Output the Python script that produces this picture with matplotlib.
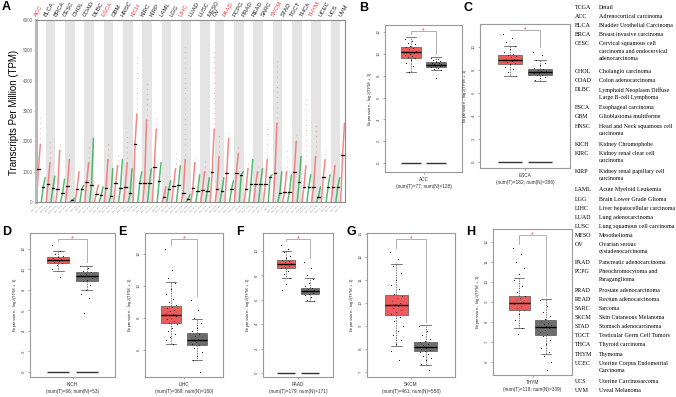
import numpy as np
import matplotlib.pyplot as plt

plt.rcParams['font.family'] = ['Liberation Sans', 'DejaVu Sans']

# ---------------- panel A : TPM dot plot ----------------
cancers = ['ACC', 'BLCA', 'BRCA', 'CESC', 'CHOL', 'COAD', 'DLBC', 'ESCA', 'GBM', 'HNSC',
           'KICH', 'KIRC', 'KIRP', 'LAML', 'LGG', 'LIHC', 'LUAD', 'LUSC', 'MESO', 'OV',
           'PAAD', 'PCPG', 'PRAD', 'READ', 'SARC', 'SKCM', 'STAD', 'TGCT', 'THCA', 'THYM',
           'UCEC', 'UCS', 'UVM']
highlight = ['ACC', 'ESCA', 'KICH', 'LIHC', 'PAAD', 'SKCM', 'THYM']
num_tumor = [77, 404, 1085, 306, 36, 275, 47, 182, 163, 519, 66, 523, 286, 173, 518, 369, 483,
             486, 87, 426, 179, 182, 492, 92, 262, 461, 408, 137, 512, 118, 174, 57, 79]
num_normal = [128, 28, 291, 13, 9, 349, 337, 286, 207, 44, 53, 100, 60, 70, 207, 160, 347,
              338, 0, 88, 171, 3, 152, 318, 2, 558, 211, 165, 337, 339, 91, 78, 0]
tumor_median = [1100, 600, 440, 520, 420, 650, 280, 470, 610, 500, 1900, 620, 1150, 180, 530,
                290, 470, 400, 1000, 420, 950, 970, 430, 590, 590, 950, 340, 1000, 500, 500,
                830, 500, 1550]
tumor_top = [1900, 1300, 1700, 1400, 1000, 1300, 550, 1400, 1200, 1300, 2900, 2700, 2400, 500,
             1100, 1400, 1300, 1000, 2400, 1500, 2100, 1600, 1100, 1000, 1400, 2600, 1000, 2000,
             1200, 1500, 1400, 1200, 2600]
tumor_max = [2800, 2000, 2000, 1600, 1000, 1800, 650, 2000, 1600, 2300, 4900, 4000, 2900, 600,
             1600, 5100, 1500, 1400, 5100, 2200, 2400, 1900, 1400, 1200, 2600, 4700, 1800, 2200,
             3500, 2600, 1800, 1300, 4800]
normal_median = [500, 460, 300, 60, 440, 560, 220, 190, 460, 290, 640, 620, 680, 430, 560, 100,
                 370, 370, 0, 370, 420, 880, 590, 590, 830, 300, 340, 670, 500, 175, 500, 500, 0]
normal_top = [800, 850, 750, 120, 550, 2100, 500, 1100, 1400, 1100, 1000, 1100, 1300, 700, 1200,
              250, 900, 800, 0, 800, 700, 1000, 1400, 1100, 900, 1000, 900, 1500, 900, 500, 900,
              800, 0]
tpm_ticks = [0, 1000, 2000, 3000, 4000, 5000, 6000]

# ---------------- panels B-H : boxplots (whislo, q1, med, q3, whishi) ----------------
acc_tumor_box = [8.3, 9.6, 10.15, 10.6, 11.5]
acc_normal_box = [8.5, 8.8, 9.0, 9.25, 9.7]
acc_tumor_pts = [11.4, 11.2, 11.0, 10.9, 10.7, 10.6, 10.5, 10.4, 10.3, 10.2, 10.15, 10.1, 10.0,
                 9.9, 9.8, 9.7, 9.6, 9.4, 9.2, 8.9, 8.3]
acc_normal_pts = [9.6, 9.5, 9.4, 9.3, 9.25, 9.2, 9.15, 9.1, 9.05, 9.0, 8.95, 8.9, 8.85, 8.8,
                  8.7, 8.6, 8.5, 7.8]

esca_tumor_box = [7.5, 8.55, 8.9, 9.28, 10.1]
esca_normal_box = [7.05, 7.55, 7.85, 8.13, 8.85]
esca_tumor_pts = [11.1, 10.8, 10.4, 10.1, 9.8, 9.6, 9.4, 9.3, 9.2, 9.1, 9.0, 8.95, 8.9, 8.85,
                  8.8, 8.7, 8.6, 8.5, 8.3, 8.1, 7.8, 7.5]
esca_normal_pts = [9.6, 9.3, 8.9, 8.6, 8.4, 8.2, 8.1, 8.0, 7.95, 7.9, 7.85, 7.8, 7.75, 7.7, 7.6,
                   7.55, 7.4, 7.3, 7.1]

kich_tumor_box = [9.9, 10.6, 10.9, 11.25, 11.8]
kich_normal_box = [8.0, 8.9, 9.35, 9.75, 10.3]
kich_tumor_pts = [12.4, 11.8, 11.5, 11.3, 11.2, 11.1, 11.0, 10.95, 10.9, 10.8, 10.7, 10.6, 10.4,
                  10.0, 9.3]
kich_normal_pts = [10.3, 10.1, 9.9, 9.8, 9.6, 9.5, 9.4, 9.35, 9.2, 9.0, 8.9, 8.5, 8.0, 7.6, 7.2,
                   5.8]

lihc_tumor_box = [6.4, 7.7, 8.2, 8.75, 10.25]
lihc_normal_box = [5.4, 6.3, 6.65, 7.05, 7.9]
lihc_tumor_pts = [12.3, 11.0, 10.5, 10.2, 9.8, 9.5, 9.2, 9.0, 8.8, 8.7, 8.6, 8.5, 8.4, 8.3, 8.25,
                  8.2, 8.1, 8.0, 7.9, 7.8, 7.7, 7.6, 7.4, 7.2, 7.0, 6.8, 6.6, 6.4]
lihc_normal_pts = [9.1, 8.5, 8.0, 7.7, 7.4, 7.2, 7.0, 6.9, 6.8, 6.7, 6.65, 6.6, 6.5, 6.4, 6.3,
                   6.1, 5.9, 5.6, 5.4, 4.6]

paad_tumor_box = [7.75, 8.65, 8.95, 9.25, 10.0]
paad_normal_box = [5.9, 6.5, 6.75, 7.0, 7.75]
paad_tumor_pts = [10.5, 10.2, 9.9, 9.6, 9.4, 9.3, 9.2, 9.1, 9.0, 8.95, 8.9, 8.8, 8.7, 8.6, 8.4,
                  8.1, 7.8, 7.3, 6.8]
paad_normal_pts = [9.1, 8.6, 8.0, 7.7, 7.4, 7.1, 7.0, 6.9, 6.8, 6.75, 6.7, 6.6, 6.5, 6.4, 6.2,
                   6.0, 5.9]

skcm_tumor_box = [8.13, 9.46, 9.92, 10.35, 11.68]
skcm_normal_box = [7.32, 7.89, 8.1, 8.29, 9.03]
skcm_tumor_pts = [12.2, 11.9, 11.6, 11.3, 11.0, 10.8, 10.6, 10.4, 10.3, 10.2, 10.1, 10.0, 9.95,
                  9.9, 9.85, 9.8, 9.7, 9.6, 9.5, 9.4, 9.2, 9.0, 8.8, 8.6, 8.4, 8.2, 7.9, 7.5]
skcm_normal_pts = [9.0, 8.8, 8.6, 8.45, 8.35, 8.3, 8.2, 8.15, 8.1, 8.05, 8.0, 7.95, 7.9, 7.85,
                   7.8, 7.7, 7.6, 7.5, 7.35, 7.1]

thym_tumor_box = [7.7, 8.6, 8.93, 9.31, 10.18]
thym_normal_box = [6.41, 7.36, 7.77, 8.1, 9.14]
thym_tumor_pts = [11.7, 11.4, 11.0, 10.7, 10.4, 10.1, 9.8, 9.5, 9.3, 9.2, 9.1, 9.0, 8.95, 8.9,
                  8.8, 8.7, 8.6, 8.4, 8.1, 7.7, 7.4]
thym_normal_pts = [9.1, 8.8, 8.5, 8.3, 8.15, 8.05, 7.95, 7.9, 7.85, 7.8, 7.75, 7.7, 7.6, 7.5, 7.4,
                   7.3, 7.1, 6.9, 6.7, 6.5, 6.3, 6.0, 5.6]

zero_baseline = ['ACC', 'ESCA', 'KICH', 'PAAD']

# ---------------- legend table ----------------
tcga_abbr = ['TCGA'] + cancers
tcga_detail = ['Detail', 'Adrenocortical carcinoma', 'Bladder Urothelial Carcinoma',
               'Breast invasive carcinoma',
               'Cervical squamous cell\ncarcinoma and endocervical\nadenocarcinoma',
               'Cholangio carcinoma', 'Colon adenocarcinoma',
               'Lymphoid Neoplasm Diffuse\nLarge B-cell Lymphoma', 'Esophageal carcinoma',
               'Glioblastoma multiforme', 'Head and Neck squamous cell\ncarcinoma',
               'Kidney Chromophobe', 'Kidney renal clear cell\ncarcinoma',
               'Kidney renal papillary cell\ncarcinoma', 'Acute Myeloid Leukemia',
               'Brain Lower Grade Glioma', 'Liver hepatocellular carcinoma',
               'Lung adenocarcinoma', 'Lung squamous cell carcinoma', 'Mesothelioma',
               'Ovarian serous\ncystadenocarcinoma', 'Pancreatic adenocarcinoma',
               'Pheochromocytoma and\nParaganglioma', 'Prostate adenocarcinoma',
               'Rectum adenocarcinoma', 'Sarcoma', 'Skin Cutaneous Melanoma',
               'Stomach adenocarcinoma', 'Testicular Germ Cell Tumors', 'Thyroid carcinoma',
               'Thymoma', 'Uterine Corpus Endometrial\nCarcinoma', 'Uterine Carcinosarcoma',
               'Uveal Melanoma']

W, H = 676, 397
fig = plt.figure(figsize=(W / 100, H / 100), dpi=100)


def px_axes(left, top, right, bottom):
    return fig.add_axes([left / W, 1 - bottom / H, (right - left) / W, (bottom - top) / H])


def letter(x, y, s):
    fig.text(x / W, 1 - y / H, s, fontsize=9, fontweight='bold', ha='center', va='center')


RED = '#F26B6B'
GREEN = '#2DAA4A'

# ---- panel A ----
ax = px_axes(36, 20, 345, 202)
widths = [1.0 if n > 0 else 0.5 for n in num_normal]
lefts = np.concatenate([[0], np.cumsum(widths)[:-1]])
total = sum(widths)
for i, name in enumerate(cancers):
    L, wd = lefts[i], widths[i]
    if i % 2 == 1:
        ax.axvspan(L, L + wd, color='#e4e4e4', lw=0, zorder=0)
    spans = [(L + 0.05, L + 0.45, tumor_median[i], tumor_top[i], RED)]
    if num_normal[i] > 0:
        spans.append((L + 0.55, L + 0.95, normal_median[i], normal_top[i], GREEN))
    for s0, s1, med, top, col in spans:
        xm = (s0 + s1) / 2
        ax.plot([s0, xm, s1], [0, med, top], color=col, lw=1.1, alpha=0.8,
                solid_capstyle='round', zorder=2)
        ax.plot([xm - 0.13, xm + 0.13], [med, med], color='black', lw=0.9, zorder=3)
    ax.plot([L + 0.45, L + 0.45], [tumor_top[i], tumor_max[i]], color=RED, lw=0.8,
            ls=(0, (0.6, 4)), alpha=0.7, zorder=2)
    col = '#E8403F' if name in highlight else '#222222'
    ax.text(L + 0.2, 6080, name, rotation=60, rotation_mode='anchor', ha='left',
            va='bottom', fontsize=4.3, color=col, clip_on=False)
    ax.text(L + 0.25, -60, '(num=%d)' % num_tumor[i], rotation=45, rotation_mode='anchor',
            ha='right', va='top', fontsize=1.7, color='#777777', clip_on=False)
    if num_normal[i] > 0:
        ax.text(L + 0.75, -60, '(num=%d)' % num_normal[i], rotation=45,
                rotation_mode='anchor', ha='right', va='top', fontsize=1.7,
                color='#777777', clip_on=False)
ax.set_xlim(0, total)
ax.set_ylim(0, 6000)
ax.set_xticks([])
ax.set_yticks(tpm_ticks)
ax.tick_params(axis='y', labelsize=3.3, labelcolor='#666666', length=1.5, width=0.4,
               color='#888888', pad=1)
for sp in ['top', 'right', 'bottom']:
    ax.spines[sp].set_color('#8a8a8a')
    ax.spines[sp].set_linewidth(0.8)
ax.spines['left'].set_color('#b8b8b8')
ax.spines['left'].set_linewidth(2.2)
fig.text(14 / W, 1 - 112 / H, 'Transcripts Per Million (TPM)', rotation=90, fontsize=7,
         ha='center', va='center')
letter(6, 7, 'A')

# ---- panels B-H ----
panels = [
    ('B', 'ACC', acc_tumor_box, acc_normal_box, acc_tumor_pts, acc_normal_pts,
     (385, 25, 462, 172), (-0.82, 12.64), range(0, 13, 2), (364, 8)),
    ('C', 'ESCA', esca_tumor_box, esca_normal_box, esca_tumor_pts, esca_normal_pts,
     (480, 24, 570, 168), (-0.52, 12.0), range(0, 11, 2), (468, 8)),
    ('D', 'KICH', kich_tumor_box, kich_normal_box, kich_tumor_pts, kich_normal_pts,
     (30, 233, 115, 377), (-0.49, 13.56), range(0, 13, 2), (7, 232)),
    ('E', 'LIHC', lihc_tumor_box, lihc_normal_box, lihc_tumor_pts, lihc_normal_pts,
     (145, 233, 223, 377), (4.31, 13.3), range(6, 13, 2), (122, 232)),
    ('F', 'PAAD', paad_tumor_box, paad_normal_box, paad_tumor_pts, paad_normal_pts,
     (263, 233, 333, 377), (-0.33, 11.48), range(0, 11, 2), (240, 232)),
    ('G', 'SKCM', skcm_tumor_box, skcm_normal_box, skcm_tumor_pts, skcm_normal_pts,
     (367, 233, 455, 377), (6.78, 13.04), range(7, 14), (351, 232)),
    ('H', 'THYM', thym_tumor_box, thym_normal_box, thym_tumor_pts, thym_normal_pts,
     (493, 229, 572, 375), (5.35, 12.65), range(6, 13), (471, 232)),
]

for lab, name, tbox, nbox, tpts, npts, rect, ylim, yt, lpos in panels:
    ax = px_axes(*rect)
    stats = []
    for b in (tbox, nbox):
        stats.append(dict(whislo=b[0], q1=b[1], med=b[2], q3=b[3], whishi=b[4], fliers=[]))
    bp = ax.bxp(stats, positions=[1, 2], widths=0.78, patch_artist=True, showfliers=False,
                boxprops=dict(lw=0.5, edgecolor='#555555'),
                whiskerprops=dict(lw=0.5, color='#444444', ls=(0, (2, 1.5))),
                capprops=dict(lw=0.5, color='#444444'),
                medianprops=dict(color='black', lw=1.0))
    bp['boxes'][0].set_facecolor('#EF5B5B')
    bp['boxes'][1].set_facecolor('#6E6E6E')
    for pos, pts in ((1, tpts), (2, npts)):
        offs = [((k * 0.618) % 1 - 0.5) * 0.45 for k in range(len(pts))]
        ax.scatter(np.array(offs) + pos, pts, s=0.6, color='black', lw=0, zorder=4)
    if name in zero_baseline:
        ax.hlines([0, 0], [0.61, 1.61], [1.39, 2.39], color='#333333', lw=1.0, zorder=3)
    rng = ylim[1] - ylim[0]
    yb = ylim[1] - 0.04 * rng
    ax.plot([1, 1, 2, 2], [max(tpts) + 0.03 * rng, yb, yb, max(npts) + 0.03 * rng],
            color='#b0b0b0', lw=0.7, zorder=2)
    ax.text(1.5, yb, '*', color='#E8403F', fontsize=5, ha='center', va='center')
    ax.set_xlim(0, 3)
    ax.set_ylim(*ylim)
    ax.set_xticks([1.5])
    ax.set_xticklabels([''])
    ax.set_yticks(list(yt))
    ax.set_yticklabels([str(v) for v in yt], rotation=90, va='center')
    ax.tick_params(labelsize=3.2, labelcolor='#444444', length=1.5, width=0.4,
                   color='#666666', pad=1.5)
    for sp in ax.spines.values():
        sp.set_color('#9a9a9a')
        sp.set_linewidth(0.8)
    ax.set_ylabel('Expression - log$_2$(TPM + 1)', fontsize=3.2, labelpad=2, color='#333333')
    i = cancers.index(name)
    ax.text(0.5, -0.035, name, transform=ax.transAxes, fontsize=3.4, ha='center', va='top',
            color='#333333')
    ax.text(0.5, -0.08, '(num(T)=%d; num(N)=%d)' % (num_tumor[i], num_normal[i]),
            transform=ax.transAxes, fontsize=3.4, ha='center', va='top', color='#333333')
    letter(lpos[0], lpos[1], lab)

# ---- legend table ----
row = 0
for abbr, det in zip(tcga_abbr, tcga_detail):
    y = 1 - (5 + row * 9.12) / H
    fig.text(575 / W, y, abbr, fontsize=4.3, family='Liberation Serif', va='top',
             ha='left', linespacing=1.55)
    fig.text(599 / W, y, det, fontsize=4.3, family='Liberation Serif', va='top',
             ha='left', linespacing=1.55)
    row += det.count('\n') + 1

fig.savefig('out.png', dpi=100)
